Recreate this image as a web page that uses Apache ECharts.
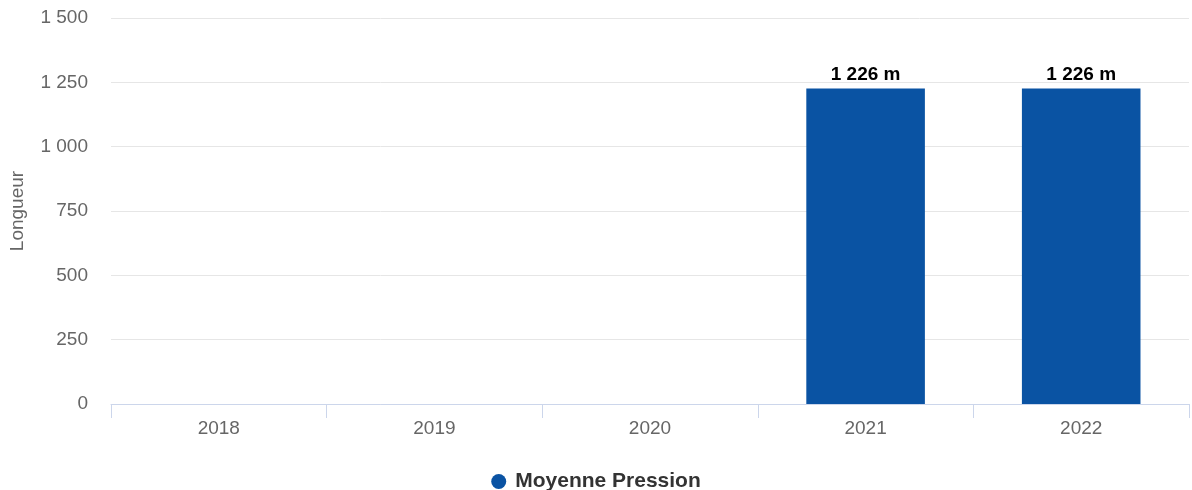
<!DOCTYPE html>
<html>
<head>
<meta charset="utf-8">
<script src="https://cdn.jsdelivr.net/npm/echarts@6/dist/echarts.min.js"></script>
<style>html,body{margin:0;padding:0;background:#fff}#c{width:1192px;height:490px}</style>
</head>
<body>
<div id="c"></div>
<script>
const categories = ['2018', '2019', '2020', '2021', '2022'];
const seriesName = 'Moyenne Pression';
const values = [null, null, null, 1226, 1226];
const yTicks = { min: 0, max: 1500, interval: 250 };
const yAxisName = 'Longueur';

function fmt(v) {
  return String(v).replace(/\B(?=(\d{3})+(?!\d))/g, ' ');
}

const chart = echarts.init(document.getElementById('c'));
chart.setOption({
  animation: false,
  textStyle: { fontFamily: 'Liberation Sans, Arial, sans-serif' },
  grid: { left: 111, right: 3, top: 18, bottom: 86, outerBoundsMode: 'none' },
  legend: {
    top: 466,
    left: 'center',
    icon: 'circle',
    itemWidth: 15,
    itemHeight: 15,
    itemGap: 10,
    textStyle: { fontSize: 21, fontWeight: 'bold', color: '#333', padding: [0, 0, 0, 4] },
    data: [seriesName]
  },
  xAxis: {
    type: 'category',
    data: categories,
    axisLine: { lineStyle: { color: '#ccd6eb' } },
    axisTick: { show: true, length: 14, lineStyle: { color: '#ccd6eb' } },
    axisLabel: { fontSize: 19, color: '#666', margin: 15 }
  },
  yAxis: {
    type: 'value',
    min: yTicks.min,
    max: yTicks.max,
    interval: yTicks.interval,
    name: yAxisName,
    nameLocation: 'middle',
    nameGap: 84,
    nameRotate: 90,
    nameTextStyle: { fontSize: 19, color: '#666' },
    axisLine: { show: false },
    axisTick: { show: false },
    splitLine: { lineStyle: { color: '#e6e6e6' } },
    axisLabel: { fontSize: 19, color: '#666', margin: 23, formatter: v => fmt(v) }
  },
  series: [{
    name: seriesName,
    type: 'bar',
    data: values,
    barWidth: '55%',
    itemStyle: { color: '#0a53a3' },
    label: {
      show: true,
      position: 'top',
      distance: 4,
      fontSize: 19,
      fontWeight: 'bold',
      color: '#000',
      formatter: p => fmt(p.value) + ' m'
    }
  }]
});
</script>
</body>
</html>
